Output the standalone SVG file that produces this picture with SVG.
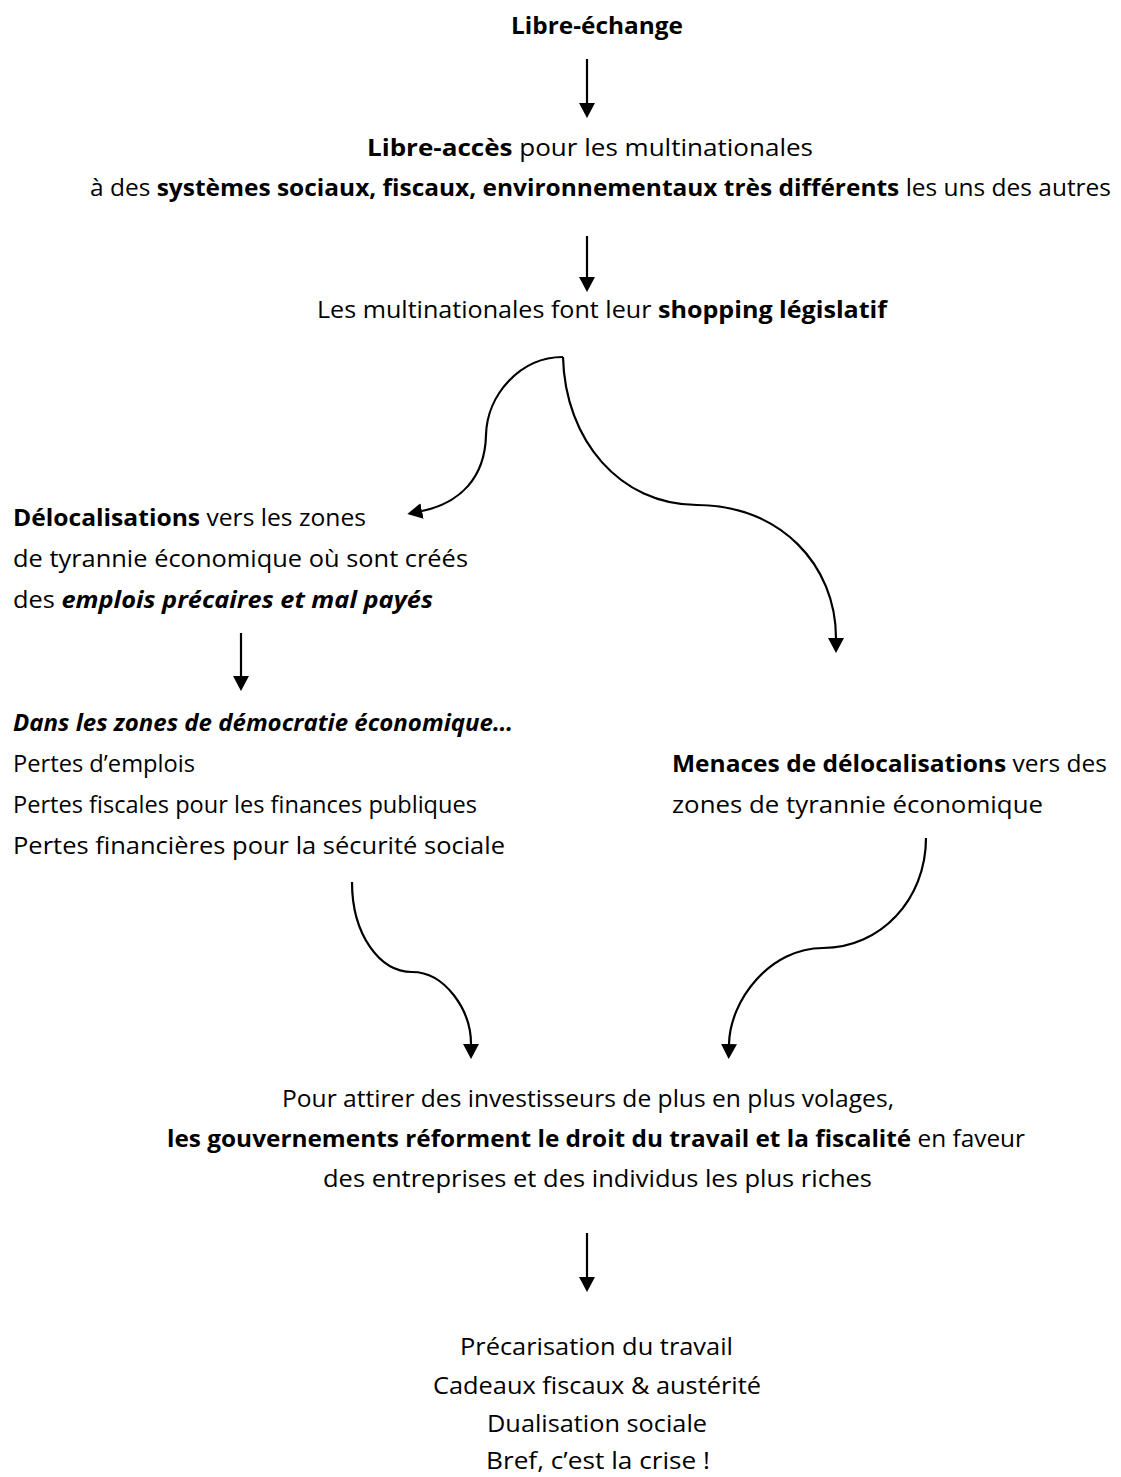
<svg xmlns="http://www.w3.org/2000/svg" width="1121" height="1477" viewBox="0 0 1121 1477">
<style>
text{font-family:"Open Sans","Noto Sans","Liberation Sans",sans-serif;font-size:23px;fill:#000;}
.b{font-weight:bold;}
.bi{font-weight:bold;font-style:italic;}
.c{fill:none;stroke:#000;stroke-width:2.2;}
</style>
<defs>
<marker id="ah" viewBox="0 0 15 16" refX="0" refY="8" markerWidth="15" markerHeight="16" markerUnits="userSpaceOnUse" orient="auto">
<path d="M0,0 L15,8 L0,16 z" fill="#000"/>
</marker>
</defs>
<rect width="1121" height="1477" fill="#fff"/>
<g id="n1">
<text x="511" y="34" textLength="172" lengthAdjust="spacingAndGlyphs" class="b">Libre-échange</text>
</g>
<g id="n2">
<text x="367" y="156" textLength="446" lengthAdjust="spacingAndGlyphs"><tspan class="b">Libre-accès</tspan> pour les multinationales</text>
<text x="90" y="196" textLength="1021" lengthAdjust="spacingAndGlyphs">à des <tspan class="b">systèmes sociaux, fiscaux, environnementaux très différents</tspan> les uns des autres</text>
</g>
<g id="n3">
<text x="317" y="318" textLength="570" lengthAdjust="spacingAndGlyphs">Les multinationales font leur <tspan class="b">shopping législatif</tspan></text>
</g>
<g id="n4">
<text x="13" y="526" textLength="353" lengthAdjust="spacingAndGlyphs"><tspan class="b">Délocalisations</tspan> vers les zones</text>
<text x="13" y="567" textLength="455" lengthAdjust="spacingAndGlyphs">de tyrannie économique où sont créés</text>
<text x="13" y="608" textLength="420" lengthAdjust="spacingAndGlyphs">des <tspan class="bi">emplois précaires et mal payés</tspan></text>
</g>
<g id="n5">
<text x="13" y="731" textLength="500" lengthAdjust="spacingAndGlyphs" class="bi">Dans les zones de démocratie économique…</text>
<text x="13" y="772" textLength="182" lengthAdjust="spacingAndGlyphs">Pertes d’emplois</text>
<text x="13" y="813" textLength="464" lengthAdjust="spacingAndGlyphs">Pertes fiscales pour les finances publiques</text>
<text x="13" y="854" textLength="492" lengthAdjust="spacingAndGlyphs">Pertes financières pour la sécurité sociale</text>
</g>
<g id="n6">
<text x="672" y="772" textLength="435" lengthAdjust="spacingAndGlyphs"><tspan class="b">Menaces de délocalisations</tspan> vers des</text>
<text x="672" y="813" textLength="371" lengthAdjust="spacingAndGlyphs">zones de tyrannie économique</text>
</g>
<g id="n7">
<text x="282" y="1107" textLength="612" lengthAdjust="spacingAndGlyphs">Pour attirer des investisseurs de plus en plus volages,</text>
<text x="167" y="1147" textLength="858" lengthAdjust="spacingAndGlyphs"><tspan class="b">les gouvernements réforment le droit du travail et la fiscalité</tspan> en faveur</text>
<text x="323" y="1187" textLength="549" lengthAdjust="spacingAndGlyphs">des entreprises et des individus les plus riches</text>
</g>
<g id="n8">
<text x="460" y="1355" textLength="273" lengthAdjust="spacingAndGlyphs">Précarisation du travail</text>
<text x="433" y="1394" textLength="328" lengthAdjust="spacingAndGlyphs">Cadeaux fiscaux &amp; austérité</text>
<text x="487" y="1432" textLength="220" lengthAdjust="spacingAndGlyphs">Dualisation sociale</text>
<text x="486" y="1469" textLength="224" lengthAdjust="spacingAndGlyphs">Bref, c’est la crise !</text>
</g>
<g id="connectors">
<path class="c" d="M587,59 V103" marker-end="url(#ah)"/>
<path class="c" d="M587,236 V277" marker-end="url(#ah)"/>
<path class="c" d="M241,633 V676" marker-end="url(#ah)"/>
<path class="c" d="M587,1233 V1277" marker-end="url(#ah)"/>
<path class="c" d="M563,357 C520,357 487,395 486,435 C485,478 460,503 422,511" marker-end="url(#ah)"/>
<path class="c" d="M563,357 C565,440 620,505 697,505 C780,505 836,565 836,638" marker-end="url(#ah)"/>
<path class="c" d="M352,882 C352,935 380,972 412,972 C445,972 471,1010 471,1044" marker-end="url(#ah)"/>
<path class="c" d="M926,838 C926,900 880,948 823,948 C770,948 730,1000 729,1044" marker-end="url(#ah)"/>
</g>
</svg>
